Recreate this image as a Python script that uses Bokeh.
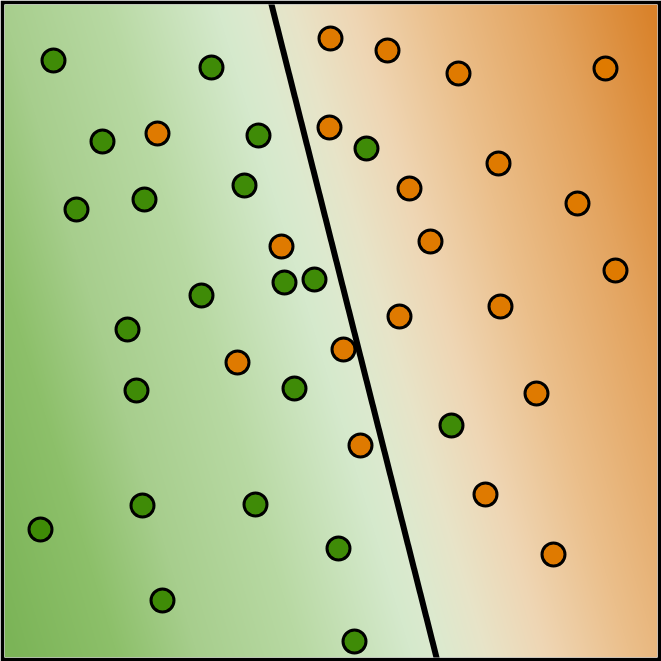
import numpy as np
from bokeh.plotting import figure
from bokeh.models import Range1d
from bokeh.embed import file_html
from bokeh.resources import INLINE

# Data (chart units: 0..661 on both axes, y upward)
green_x = [53, 211, 102, 258, 76, 144, 244, 284, 314, 201, 127, 136, 294, 142, 255, 40, 338, 162, 354, 451, 366]
green_y = [601, 594, 520, 526, 452, 462, 476, 379, 382, 366, 332, 271, 273, 156, 157, 132, 113, 61, 20, 236, 513]

orange_x = [330, 387, 458, 605, 157, 329, 498, 409, 577, 281, 430, 615, 399, 500, 343, 237, 536, 360, 485, 553]
orange_y = [623, 611, 588, 593, 528, 534, 498, 473, 458, 415, 420, 391, 345, 355, 312, 299, 268, 216, 167, 107]

boundary_x = [270, 437]
boundary_y = [661, 0]

# Background colour ramp (position along the gradient direction -> colour)
ramp_pos = [-185, -80, 0, 104, 214, 244, 290, 350, 434, 544, 650]
ramp_col = ["#7bb457", "#8dc06a", "#a7ce8d", "#b8d9a3", "#d5e9cc", "#dceacf",
            "#e8e4c8", "#efd6b4", "#ebbf8b", "#e3a35e", "#d9822a"]
ramp_tilt = 0.3

W = H = 661
B = 4  # border thickness

def hex_rgb(h):
    h = h.lstrip("#")
    return [int(h[i:i + 2], 16) for i in (0, 2, 4)]

rgb = np.array([hex_rgb(c) for c in ramp_col], dtype=float)
n = W - 2 * B
xs = B + np.arange(n) + 0.5
ys = B + np.arange(n) + 0.5
X, Y = np.meshgrid(xs, ys)
PY = H - Y
U = X - ramp_tilt * PY
img = np.empty((n, n), dtype=np.uint32)
view = img.view(dtype=np.uint8).reshape((n, n, 4))
for k in range(3):
    view[:, :, k] = np.clip(np.interp(U, ramp_pos, rgb[:, k]), 0, 255).astype(np.uint8)
view[:, :, 3] = 255

p = figure(width=W, height=H, output_backend="svg", toolbar_location=None,
           x_range=Range1d(B, W - B), y_range=Range1d(B, H - B),
           min_border=B)
p.axis.visible = False
p.grid.visible = False
p.outline_line_color = None
p.background_fill_color = "white"
p.border_fill_color = "black"

p.image_rgba(image=[img], x=B, y=B, dw=n, dh=n)
p.line(boundary_x, boundary_y, line_color="black", line_width=6)
p.scatter(green_x, green_y, size=23, fill_color="#3f8b07", line_color="black", line_width=3)
p.scatter(orange_x, orange_y, size=23, fill_color="#df7a00", line_color="black", line_width=3)

open("out.html", "w").write(file_html(p, INLINE))
